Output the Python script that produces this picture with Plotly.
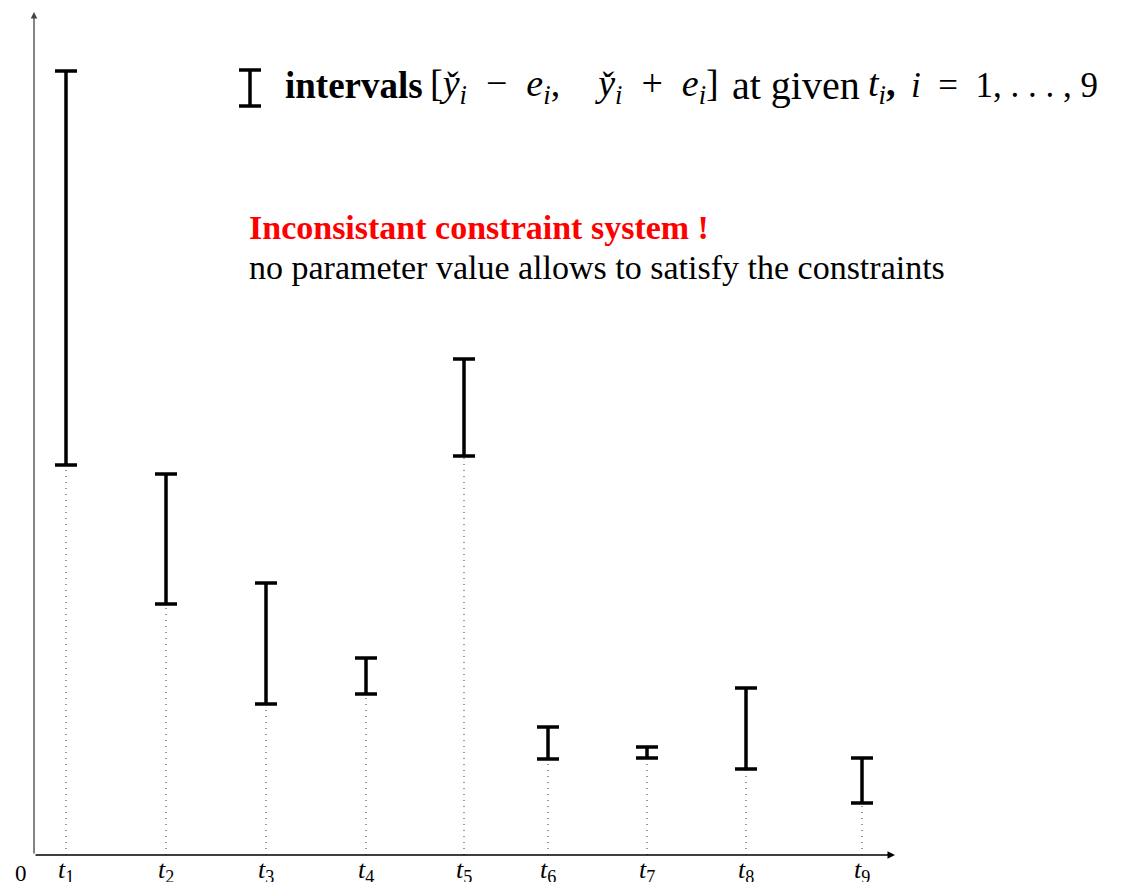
import plotly.graph_objects as go

# Measurement instants (abscissa, arbitrary units from the origin)
t_pos = [32, 132, 232, 332, 430, 514, 613, 712, 828]
t_labels = [f"<i>t</i><sub>{i}</sub>" for i in range(1, 10)]

# Interval bounds [y_i - e_i, y_i + e_i]
y_low = [390, 251, 151, 161, 399, 96, 97, 86, 52]
y_high = [784, 381, 272, 197, 496, 128, 108, 167, 97]

y_mid = [(lo + hi) / 2 for lo, hi in zip(y_low, y_high)]
e_half = [(hi - lo) / 2 for lo, hi in zip(y_low, y_high)]

X_MAX = 861
Y_MAX = 845

SERIF = "Liberation Serif"
EN = "\u2002"    # en space


def px(xv):
    """Axis units -> paper fraction (works outside the axis range too)."""
    return xv / X_MAX


def py(yv):
    return yv / Y_MAX


fig = go.Figure()

# Dotted guides from the time axis up to each interval
gx, gy = [], []
for t, lo in zip(t_pos, y_low):
    gx += [t, t, None]
    gy += [0, lo, None]
fig.add_trace(go.Scatter(
    x=gx, y=gy, mode="lines",
    line=dict(color="#333333", width=1, dash="1px,5px"),
    hoverinfo="skip", showlegend=False,
))

# Interval bars
fig.add_trace(go.Scatter(
    x=t_pos, y=y_mid, mode="markers",
    marker=dict(size=1, opacity=0),
    error_y=dict(type="data", array=e_half, visible=True,
                 color="black", thickness=3.5, width=11),
    showlegend=False,
))

# Axes with arrows
fig.add_annotation(x=0, y=Y_MAX - 2, ax=0, ay=0, xref="x", yref="y",
                   axref="x", ayref="y", showarrow=True, arrowhead=2,
                   arrowsize=1, arrowwidth=1.3, arrowcolor="#444444", text="")
fig.add_annotation(x=X_MAX, y=0, ax=0, ay=0, xref="x", yref="y",
                   axref="x", ayref="y", showarrow=True, arrowhead=2,
                   arrowsize=1, arrowwidth=1.5, arrowcolor="black", text="")

# Time labels under the axis
for t, lab in zip(t_pos, t_labels):
    fig.add_annotation(x=px(t), y=0, xref="paper", yref="paper", text=lab,
                       xanchor="center", yanchor="top", yshift=2,
                       showarrow=False,
                       font=dict(family=SERIF, size=26, color="black"))

# Origin label
fig.add_annotation(x=px(-13), y=py(-18), xref="paper", yref="paper", text="0",
                   xanchor="center", yanchor="middle",
                   showarrow=False,
                   font=dict(family=SERIF, size=23, color="black"))

# Legend glyph (interval symbol)
lg_x, lg_y0, lg_y1 = 216, 749, 785
fig.add_shape(type="line", x0=lg_x, x1=lg_x, y0=lg_y0, y1=lg_y1,
              xref="x", yref="y", line=dict(color="black", width=3.5))
for yy in (lg_y0, lg_y1):
    fig.add_shape(type="line", x0=lg_x - 11, x1=lg_x + 11, y0=yy, y1=yy,
                  xref="x", yref="y", line=dict(color="black", width=3.5))

# Legend caption, laid out piece by piece along one baseline
caption = [
    (249, "<b>intervals</b>", 37),
    (394, (f"[<i>y̌</i><sub><i>i</i></sub>{EN}−{EN}<i>e</i><sub><i>i</i></sub>,{EN}{EN}"
           f"<i>y̌</i><sub><i>i</i></sub>{EN}+{EN}<i>e</i><sub><i>i</i></sub>]"), 38),
    (696, "at given", 40),
    (832, "<i>t</i><sub><i>i</i></sub><b>,</b>", 38),
    (875, f"<i>i</i>{EN}={EN}1, . . . , 9", 35),
]
for cx, txt, fs in caption:
    fig.add_annotation(
        x=px(cx), y=py(769), xref="paper", yref="paper",
        xanchor="left", yanchor="middle",
        showarrow=False, text=txt,
        font=dict(family=SERIF, size=fs, color="black"),
    )

fig.add_annotation(
    x=px(213), y=py(628), xref="paper", yref="paper",
    xanchor="left", yanchor="middle",
    showarrow=False, text="<b>Inconsistant constraint system !</b>",
    font=dict(family=SERIF, size=34, color="red"),
)
fig.add_annotation(
    x=px(213), y=py(588), xref="paper", yref="paper",
    xanchor="left", yanchor="middle",
    showarrow=False, text="no parameter value allows to satisfy the constraints",
    font=dict(family=SERIF, size=34, color="black"),
)

fig.update_xaxes(
    range=[0, X_MAX], showgrid=False, zeroline=False, showline=False,
    showticklabels=False, ticks="", automargin=False,
)
fig.update_yaxes(
    range=[0, Y_MAX], showgrid=False, zeroline=False, showline=False,
    showticklabels=False, ticks="", automargin=False,
)

fig.update_layout(
    width=1124, height=882,
    margin=dict(l=34, r=229, t=10, b=27, pad=0),
    plot_bgcolor="white", paper_bgcolor="white",
)

fig.write_html("out.html")
